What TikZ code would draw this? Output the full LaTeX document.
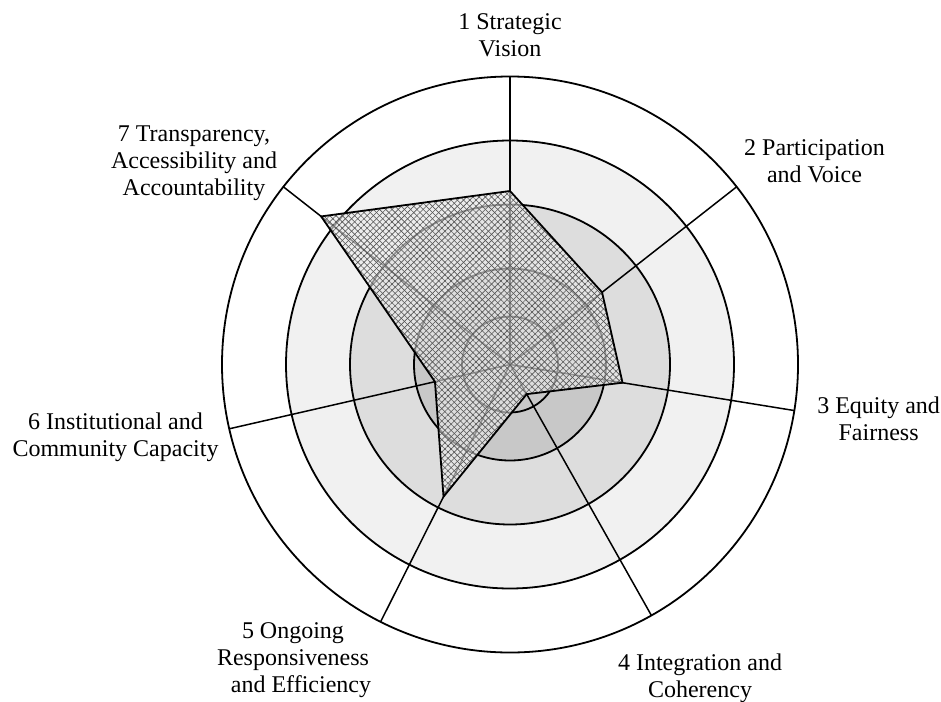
\documentclass[tikz,border=0pt]{standalone}
\usepackage{fontspec}
\setmainfont{Liberation Serif}
\usetikzlibrary{calc,patterns.meta}
\definecolor{coreGray}{RGB}{200,200,200}
\definecolor{midGray}{RGB}{221,221,221}
\definecolor{paleGray}{RGB}{241,241,241}
\definecolor{hatchGray}{RGB}{85,85,85}
\begin{document}
\begin{tikzpicture}[x=1pt,y=1pt,
  ring/.style={draw=black,line width=1.8pt},
  spoke/.style={draw=black,line width=1.5pt},
  axislabel/.style={font=\fontsize{24}{27}\selectfont,align=center,inner sep=0pt,anchor=north},
]
\useasboundingbox (0,0) rectangle (941,-701);
\coordinate (C) at (510,-364.5);

% concentric rating bands
\draw[ring,fill=white]    (C) circle (288);
\draw[ring,fill=paleGray] (C) circle (224);
\draw[ring,fill=midGray]  (C) circle (160);
\draw[ring,fill=coreGray] (C) circle (96);
\draw[ring]               (C) circle (48);

% one spoke per dimension
\foreach \i/\a in {1/90,2/38.1,3/-9.2,4/-60.6,5/-116.7,6/-167.1,7/141.9} {
  \coordinate (A\i) at ($(C)+(\a:288)$);
  \draw[spoke] (C) -- (A\i);
}

% scores on each spoke
\foreach \i/\a/\r in {1/90/173.5,2/38.1/117,3/-9.2/114,4/-60.6/34,5/-116.7/148,6/-167.1/77,7/141.9/240} {
  \coordinate (P\i) at ($(C)+(\a:\r)$);
}

% score polygon: translucent fill, diagonal cross hatch, outline
\fill[black!8,fill opacity=0.62] (P1)--(P2)--(P3)--(P4)--(P5)--(P6)--(P7)--cycle;
\fill[pattern={Lines[angle=45,distance=4.4pt,line width=0.6pt]},pattern color=hatchGray]
  (P1)--(P2)--(P3)--(P4)--(P5)--(P6)--(P7)--cycle;
\fill[pattern={Lines[angle=-45,distance=4.4pt,line width=0.6pt]},pattern color=hatchGray]
  (P1)--(P2)--(P3)--(P4)--(P5)--(P6)--(P7)--cycle;
\draw[line width=1.8pt,line join=miter] (P1)--(P2)--(P3)--(P4)--(P5)--(P6)--(P7)--cycle;

% dimension labels
\node[axislabel] (L1) at (510,-13.7)    {1 Strategic\\Vision};
\node[axislabel] (L2) at (814.5,-139.7) {2 Participation\\and Voice};
\node[axislabel] (L3) at (878.6,-396.7) {3 Equity and\\Fairness};
\node[axislabel] (L4) at (700,-653.7)   {4 Integration and\\Coherency};
\node[axislabel] (L5) at (293,-622.4)   {5 Ongoing\\Responsiveness\\\hspace*{16pt}and Efficiency};
\node[axislabel] (L6) at (115.5,-412.5) {6 Institutional and\\Community Capacity};
\node[axislabel] (L7) at (194,-125.7)   {7 Transparency,\\Accessibility and\\Accountability};
\end{tikzpicture}
\end{document}
